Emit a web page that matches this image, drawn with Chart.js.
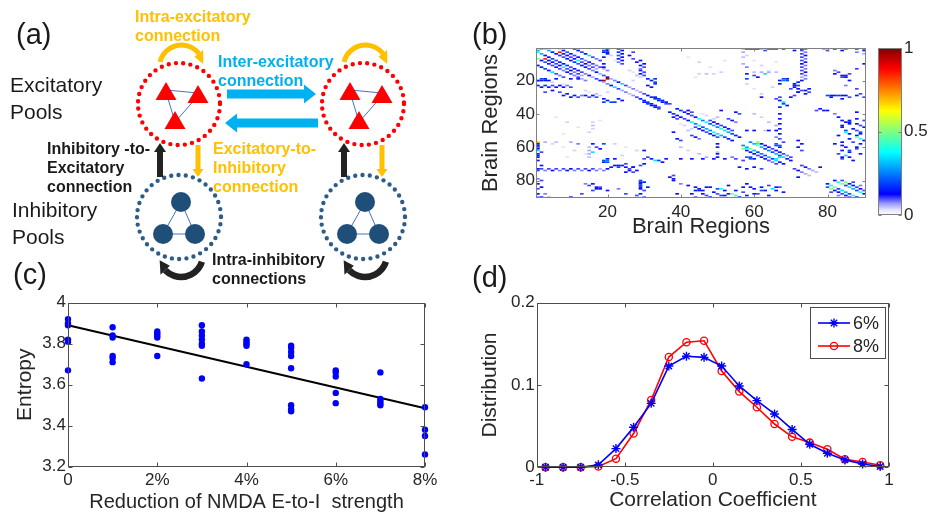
<!DOCTYPE html>
<html>
<head>
<meta charset="utf-8">
<script src="https://cdn.jsdelivr.net/npm/chart.js@4.4.1/dist/chart.umd.min.js"></script>
<style>
  html, body { margin: 0; padding: 0; background: #fff; }
  #fig { position: relative; width: 930px; height: 517px; overflow: hidden; }
  canvas { position: absolute; }
</style>
</head>
<body>
<div id="fig">
  <canvas id="cA" width="470" height="292" style="left:0px;top:0px"></canvas>
  <canvas id="cB" width="400" height="250" style="left:470px;top:0px"></canvas>
  <canvas id="cBar" width="60" height="250" style="left:870px;top:0px"></canvas>
  <canvas id="cC" width="470" height="262" style="left:0px;top:255px"></canvas>
  <canvas id="cD" width="460" height="262" style="left:470px;top:255px"></canvas>
</div>
<script>
// ---------- data ----------
// (b) structural connectivity, upper triangle entries [row, col, weight]; mirrored when drawn
const frontalCells = [
  [1,2,.3],[1,3,.38],[2,4,.3],[1,7,.5],[3,7,.85],[2,8,.12],[3,5,.15],[4,6,.12],[5,7,.2],[6,8,.1],
  [7,9,.15],[8,10,.12],[9,11,.18],[10,12,.1],[11,13,.15],[12,14,.12],[13,15,.1],[14,16,.08],[15,17,.12],
  [16,18,.06],[17,19,.1],[18,20,.15],[19,21,.06],[20,22,.08],[21,23,.12],[22,24,.35],[23,25,.1],
  [24,26,.06],[25,27,.08],[26,28,.05],[27,29,.07],[28,30,.1],
  [4,8,.15],[5,9,.12],[6,10,.1],[7,11,.15],[8,12,.38],[9,13,.1],[10,14,.12],[11,15,.08],[12,16,.1],[13,17,.06],
  [3,9,.1],[4,10,.15],[5,11,.1],[6,12,.12],[7,13,.1],[8,14,.08],[9,15,.12],[10,16,.1],[11,17,.08],[12,18,.1],[13,19,.06],[14,20,.08],
  [1,11,.12],[2,12,.15],[3,13,.2],[4,14,.12],[5,15,.35],[6,16,.1],[7,17,.08],[8,18,.1],
  [2,19,.2],[3,19,.15],[6,19,.15],[10,19,.12],[12,19,.12],[19,20,.95],[1,20,.15],[2,20,.15],[3,20,.15],[4,20,.12],
  [3,23,.18],[4,24,.15],[7,23,.15],[8,24,.12],[1,23,.15],[2,24,.12],[5,23,.1],[6,24,.12],[9,23,.08],[10,24,.1],
  [3,27,.1],[5,26,.12],[7,27,.1],[9,28,.12],[8,29,.12],[10,30,.12],[11,29,.15],[12,30,.1],[13,29,.08],
  [14,29,.12],[15,30,.1],[16,29,.15],[17,30,.1],
  [19,31,.15],[20,32,.15],[19,33,.18],[21,33,.2],[23,31,.15],[24,32,.12],[22,33,.18],
  [29,31,.12],[30,32,.15],[31,33,.18],[32,34,.15],[33,35,.12],[34,36,.1],[30,33,.15],[31,34,.18],[32,35,.15],[33,36,.12],[34,37,.1],
  [5,21,.04],[8,22,.03],[14,26,.04],[15,27,.03],[17,28,.05],[18,29,.04],[16,30,.03],[20,27,.04]
];
const limbicCells = [
  [37,39,.15],[38,40,.18],[39,41,.15],[40,42,.12],[41,43,.1],[38,42,.12],[39,43,.1],[42,44,.12],[43,45,.38],
  [44,46,.25],[45,47,.38],[46,48,.2],[47,49,.3],[48,50,.25],[49,51,.4],[50,52,.35],[51,53,.3],[52,54,.2],[53,55,.15],[54,56,.12],
  [44,48,.1],[45,49,.12],[46,50,.12],[47,51,.1],[48,52,.15],[49,53,.12],[50,54,.1],[43,53,.1],[44,54,.12],[45,55,.08],
  [38,51,.12],[39,55,.15],[40,56,.1],[41,47,.04],[42,50,.05],[43,49,.04],[40,46,.03]
];
const occipitalCells = [
  [57,59,.25],[58,60,.3],[59,61,.5],[60,62,.3],[61,63,.2],[62,64,.25],[63,65,.2],[64,66,.3],[65,67,.2],[66,68,.35],
  [57,61,.5],[58,61,.38],[58,62,.15],[59,63,.12],[60,64,.12],[61,65,.1],[62,66,.12],[63,67,.15],[64,68,.1],[66,67,.35],
  [58,66,.1],[60,67,.15],[59,67,.22],[57,68,.1],[65,69,.08],[66,70,.1],[67,69,.15],[68,70,.12],[59,66,.2]
];
const subcorticalCells = [
  [80,82,.15],[81,83,.4],[82,84,.5],[83,85,.2],[84,86,.35],[85,87,.3],[86,88,.2],[87,89,.4],[88,90,.15],
  [80,84,.1],[81,85,.5],[82,86,.15],[83,87,.12],[84,88,.1],[85,89,.12],[86,90,.1],[81,87,.1],[83,89,.08],
  [71,73,.1],[72,74,.12],[73,75,.08],[74,76,.06],[75,77,.05],[72,78,.12]
];
const crossCells = [
  [40,82,.08],[42,83,.12],[44,84,.15],[45,85,.12],[46,86,.15],[48,84,.12],[50,85,.2],[52,86,.15],[53,88,.15],[55,89,.4],
  [56,90,.15],[58,82,.12],[59,84,.15],[60,85,.12],[62,84,.15],[63,86,.12],[64,83,.1],[65,85,.35],[66,86,.12],[67,84,.1],
  [57,87,.1],[58,89,.15],[61,88,.1],[44,90,.1],[46,88,.12],[48,90,.15],[50,88,.1],[52,89,.12],
  [45,86,.15],[47,84,.12],[49,87,.15],[51,89,.2],[53,83,.12],[55,86,.15],[57,84,.12],[60,88,.15],[62,86,.2],[64,89,.15],
  [66,84,.12],[68,87,.15],[43,88,.12],[44,86,.15],[47,89,.1],[51,85,.38],[54,88,.5],
  [1,57,.7],[1,58,.15],[1,60,.12],[1,62,.35],[1,64,.15],[1,66,.12],[1,68,.15],[1,73,.12],[1,79,.08],[1,85,.1],[1,90,.08],
  [2,73,.1],[3,74,.08],[4,73,.1],[5,74,.12],[6,73,.1],[7,74,.08],[8,73,.1],[9,74,.15],[10,73,.12],[11,74,.08],[12,73,.1],
  [13,74,.08],[14,73,.1],[15,74,.12],[16,73,.1],[17,74,.08],[18,73,.06],[19,74,.08],[20,73,.12],[21,72,.15],[22,71,.12],
  [23,72,.2],[24,71,.15],[25,72,.12],[26,73,.1],[27,72,.12],
  [3,57,.06],[6,57,.05],[10,57,.06],[12,58,.08],[16,58,.15],[17,60,.1],[18,61,.12],[16,63,.35],[19,68,.2],[20,67,.15],
  [22,67,.12],[19,69,.15],[20,68,.25],[20,69,.2],[19,58,.2],[29,80,.2],[29,81,.15],[29,83,.18],[29,85,.12],[17,84,.15],[18,85,.12],
  [16,86,.1],[20,86,.12],[23,85,.08],[25,88,.1],[28,89,.1],[14,82,.08],[13,88,.1],[10,90,.12],[3,88,.08],[4,90,.06],
  [15,62,.06],[15,60,.05],[15,64,.06],[15,66,.05],
  [1,59,.15],[1,61,.12],[2,63,.1],[1,65,.12],[2,71,.15],[1,74,.2],[2,80,.1],[1,82,.15],[2,84,.12],[1,88,.15],[2,90,.12],
  [25,75,.15],[26,74,.12],[27,75,.1],[28,74,.12],[23,71,.12],[25,70,.1],[27,72,.15],[29,71,.1],[30,70,.12],
  [29,82,.15],[29,84,.12],[30,86,.1],[29,88,.15],[30,90,.1],[15,83,.1],[16,82,.12],[17,85,.15],[18,84,.1],
  [30,62,.12],[30,81,.15],[31,84,.15],[39,88,.12],[38,79,.15],[38,80,.12],
  [33,68,.35],[32,67,.15],[34,68,.2],[31,66,.1],[35,69,.12],[30,67,.1],[36,67,.15],
  [40,67,.12],[43,67,.15],[46,67,.12],[49,67,.15],[52,67,.12],[55,67,.1],
  [50,58,.12],[50,60,.15],[50,64,.12],[50,66,.12],
  [56,72,.12],[58,73,.15],[60,72,.12],[62,73,.1],
  [37,78,.12],[38,77,.1],[40,60,.05],[42,62,.04],[45,64,.05],[47,66,.06],[50,63,.05],[54,66,.08],
  [5,58,.04],[8,60,.03],[11,62,.04],[14,64,.03],[22,58,.04],[25,60,.03],[28,62,.04],[9,66,.03],[24,65,.04],
  [16,45,.04],[16,47,.05],[16,49,.04],[6,42,.03],[9,45,.04],[12,48,.03],[15,51,.04],[18,44,.03],[8,52,.03]
];
const regionTicks = [20, 40, 60, 80];
const colorbarTicks = [0, 0.5, 1];

// (c) entropy per NMDA E-to-I reduction level (%)
const reductionLevels = [0, 1, 2, 3, 4, 5, 6, 7, 8];
const entropyValues = [
  [3.92, 3.90, 3.89, 3.82, 3.81, 3.67],
  [3.88, 3.84, 3.83, 3.74, 3.73, 3.71],
  [3.86, 3.85, 3.84, 3.83, 3.74],
  [3.89, 3.86, 3.84, 3.82, 3.80, 3.79, 3.63],
  [3.82, 3.81, 3.80, 3.79, 3.70],
  [3.79, 3.78, 3.76, 3.74, 3.68, 3.50, 3.48, 3.47],
  [3.67, 3.66, 3.64, 3.56, 3.51],
  [3.66, 3.53, 3.52, 3.51, 3.50],
  [3.49, 3.38, 3.35, 3.26]
];
const fitEnds = [3.89, 3.485];   // linear fit at 0% and 8%
const levelTicks = [0, 2, 4, 6, 8];
const entropyTicks = [3.2, 3.4, 3.6, 3.8, 4];

// (d) distribution of correlation coefficients
const corrBins = [-0.95,-0.85,-0.75,-0.65,-0.55,-0.45,-0.35,-0.25,-0.15,-0.05,0.05,0.15,0.25,0.35,0.45,0.55,0.65,0.75,0.85,0.95];
const dist6 = [0,0,0,0.003,0.0227,0.0486,0.0777,0.123,0.135,0.1336,0.123,0.0988,0.081,0.0648,0.046,0.028,0.017,0.009,0.004,0.001];
const dist8 = [0,0,0,0.001,0.0105,0.041,0.0818,0.134,0.152,0.1538,0.117,0.092,0.073,0.0526,0.037,0.03,0.0219,0.0097,0.0065,0.0024];
const corrTicks = [-1, -0.5, 0, 0.5, 1];
const distTicks = [0, 0.1, 0.2];

// ---------- common style ----------
const FONT = "'Liberation Sans', Arial, Helvetica, sans-serif";
const INK = '#262626';
Chart.defaults.font.family = FONT;
Chart.defaults.color = INK;
Chart.defaults.animation = false;
Chart.defaults.responsive = false;
Chart.defaults.devicePixelRatio = 1;
Chart.defaults.plugins.legend.display = false;
Chart.defaults.plugins.tooltip.enabled = false;

function fmt(v) { return String(Number(v.toFixed(2))); }

function axis(opts) {
  const o = {
    type: 'linear', min: opts.min, max: opts.max, reverse: !!opts.reverse,
    position: opts.position,
    grid: { display: false, drawTicks: false },
    border: { display: false },
    afterFit(s) { if (s.isHorizontal()) s.height = opts.size; else s.width = opts.size; },
    afterBuildTicks(s) { s.ticks = opts.ticks.map(v => ({ value: v })); },
    ticks: { padding: opts.pad, font: { size: 17 }, color: INK, maxRotation: 0, autoSkip: false,
             callback: opts.label || (v => fmt(v)) },
    title: opts.title ? { display: true, text: opts.title, font: { size: opts.titleSize || 21 }, color: INK,
             padding: opts.titlePad } : { display: false }
  };
  if (opts.display === false) o.display = false;
  return o;
}

// MATLAB-like box with inward tick marks
function boxPlugin(color, len) {
  return {
    id: 'box',
    afterDraw(chart) {
      const { ctx, chartArea: a } = chart;
      const x = chart.scales.x, y = chart.scales.y;
      ctx.save();
      ctx.strokeStyle = color; ctx.lineWidth = 1;
      const L = Math.round(a.left) + 0.5, R = Math.round(a.right) - 0.5;
      const T = Math.round(a.top) + 0.5, B = Math.round(a.bottom) - 0.5;
      ctx.beginPath();
      if (x && x.options.display !== false) x.ticks.forEach(t => {
        const p = Math.round(x.getPixelForValue(t.value)) + 0.5;
        ctx.moveTo(p, B); ctx.lineTo(p, B - len); ctx.moveTo(p, T); ctx.lineTo(p, T + len);
      });
      if (y) y.ticks.forEach(t => {
        const p = Math.round(y.getPixelForValue(t.value)) + 0.5;
        ctx.moveTo(L, p); ctx.lineTo(L + len, p); ctx.moveTo(R, p); ctx.lineTo(R - len, p);
      });
      ctx.stroke();
      ctx.strokeRect(L, T, R - L, B - T);
      ctx.restore();
    }
  };
}

function panelTag(text, x, y) {
  return {
    id: 'tag' ,
    afterDraw(chart) {
      const ctx = chart.ctx;
      ctx.save(); ctx.font = '29px ' + FONT; ctx.fillStyle = '#1a1a1a';
      ctx.textBaseline = 'alphabetic'; ctx.textAlign = 'left';
      ctx.fillText(text, x, y); ctx.restore();
    }
  };
}

// ---------- colormap (white -> blue, then jet) ----------
const cmapStops = [
  [0, [255,255,255]], [0.03, [228,228,255]], [0.07, [150,150,255]], [0.11, [40,40,255]],
  [0.125, [0,0,255]], [0.375, [0,255,255]], [0.625, [255,255,0]], [0.875, [255,0,0]], [1, [128,0,0]]
];
function cmap(v) {
  v = Math.max(0, Math.min(1, v));
  for (let i = 1; i < cmapStops.length; i++) {
    const [v1, c1] = cmapStops[i];
    if (v <= v1) {
      const [v0, c0] = cmapStops[i - 1];
      const f = (v - v0) / (v1 - v0);
      const c = c0.map((k, j) => Math.round(k + (c1[j] - k) * f));
      return 'rgb(' + c.join(',') + ')';
    }
  }
  return 'rgb(128,0,0)';
}

// ---------- (a) model diagram ----------
const ORANGE = '#FFC000', CYAN = '#00B0F0', RED = '#FF0000', NAVY = '#1F4E79', DOTBLUE = '#2E5C8A', LINKBLUE = '#4472C4';

function dottedCircle(ctx, cx, cy, r, color) {
  ctx.save(); ctx.beginPath(); ctx.arc(cx, cy, r, 0, Math.PI * 2);
  ctx.setLineDash([0, 7.3]); ctx.lineCap = 'round'; ctx.lineWidth = 4.4; ctx.strokeStyle = color; ctx.stroke();
  ctx.restore();
}
function blockArrow(ctx, x0, y0, x1, y1, bw, hw, hl, color) {
  const dx = x1 - x0, dy = y1 - y0, L = Math.hypot(dx, dy), ux = dx / L, uy = dy / L, nx = -uy, ny = ux;
  const bx = x1 - ux * hl, by = y1 - uy * hl;
  ctx.beginPath();
  ctx.moveTo(x0 + nx * bw / 2, y0 + ny * bw / 2);
  ctx.lineTo(bx + nx * bw / 2, by + ny * bw / 2);
  ctx.lineTo(bx + nx * hw / 2, by + ny * hw / 2);
  ctx.lineTo(x1, y1);
  ctx.lineTo(bx - nx * hw / 2, by - ny * hw / 2);
  ctx.lineTo(bx - nx * bw / 2, by - ny * bw / 2);
  ctx.lineTo(x0 - nx * bw / 2, y0 - ny * bw / 2);
  ctx.closePath(); ctx.fillStyle = color; ctx.fill();
}
function arcArrow(ctx, cx, cy, r, a0deg, a1deg, headDeg, lw, hw, color) {
  const rad = Math.PI / 180, a0 = a0deg * rad, a1 = a1deg * rad, ab = (a1deg - headDeg) * rad;
  ctx.save();
  ctx.beginPath(); ctx.arc(cx, cy, r, a0, ab); ctx.lineWidth = lw; ctx.strokeStyle = color; ctx.lineCap = 'butt'; ctx.stroke();
  const bx = cx + r * Math.cos(ab), by = cy + r * Math.sin(ab);
  const tx = cx + r * Math.cos(a1), ty = cy + r * Math.sin(a1);
  const nx = Math.cos(ab), ny = Math.sin(ab);
  ctx.beginPath(); ctx.moveTo(bx + nx * hw / 2, by + ny * hw / 2); ctx.lineTo(tx, ty); ctx.lineTo(bx - nx * hw / 2, by - ny * hw / 2);
  ctx.closePath(); ctx.fillStyle = color; ctx.fill();
  ctx.restore();
}
function triangle(ctx, cx, top, w, h) {
  ctx.beginPath(); ctx.moveTo(cx, top); ctx.lineTo(cx + w / 2, top + h); ctx.lineTo(cx - w / 2, top + h); ctx.closePath(); ctx.fill();
}
function drawColumn(ctx, dx) {
  // excitatory pool
  ctx.save();
  ctx.strokeStyle = LINKBLUE; ctx.lineWidth = 1;
  ctx.beginPath();
  ctx.moveTo(166 + dx, 90); ctx.lineTo(198 + dx, 93);
  ctx.moveTo(166 + dx, 92); ctx.lineTo(175 + dx, 122);
  ctx.moveTo(198 + dx, 96); ctx.lineTo(175 + dx, 122);
  ctx.stroke();
  ctx.fillStyle = RED;
  triangle(ctx, 166 + dx, 82, 21, 18);
  triangle(ctx, 198 + dx, 85, 21, 18);
  triangle(ctx, 175 + dx, 111, 21, 18);
  dottedCircle(ctx, 179 + dx, 104, 41, RED);
  arcArrow(ctx, 181.5 + dx, 67, 22, 193, 352, 30, 5, 11, ORANGE);
  // inhibitory pool
  ctx.strokeStyle = LINKBLUE; ctx.lineWidth = 1;
  ctx.beginPath();
  ctx.moveTo(181 + dx, 202); ctx.lineTo(163 + dx, 234);
  ctx.moveTo(181 + dx, 202); ctx.lineTo(195 + dx, 234);
  ctx.moveTo(163 + dx, 234); ctx.lineTo(195 + dx, 234);
  ctx.stroke();
  ctx.fillStyle = NAVY;
  [[181, 202], [163, 234], [195, 234]].forEach(([x, y]) => { ctx.beginPath(); ctx.arc(x + dx, y, 10, 0, Math.PI * 2); ctx.fill(); });
  dottedCircle(ctx, 179 + dx, 217, 42, DOTBLUE);
  arcArrow(ctx, 181 + dx, 255, 22, 18, 166, 30, 6.5, 13, '#222222');
  // vertical links
  blockArrow(ctx, 160 + dx, 177, 160 + dx, 143, 6, 12, 9, '#222222');
  blockArrow(ctx, 198 + dx, 145, 198 + dx, 177, 5, 11, 8, ORANGE);
  ctx.restore();
}
const diagramPlugin = {
  id: 'diagram',
  afterDraw(chart) {
    const ctx = chart.ctx;
    drawColumn(ctx, 0);
    drawColumn(ctx, 184);
    blockArrow(ctx, 227, 94, 316, 94, 9, 19, 12, CYAN);
    blockArrow(ctx, 318, 123, 225, 123, 9, 19, 12, CYAN);
    ctx.save();
    ctx.textAlign = 'left'; ctx.textBaseline = 'alphabetic';
    ctx.fillStyle = '#1a1a1a'; ctx.font = '29px ' + FONT;
    ctx.fillText('(a)', 16, 44);
    ctx.font = '21px ' + FONT; ctx.fillStyle = '#1a1a1a';
    ctx.fillText('Excitatory', 10, 92); ctx.fillText('Pools', 10, 119);
    ctx.fillText('Inhibitory', 12, 217); ctx.fillText('Pools', 12, 244);
    ctx.font = 'bold 16px ' + FONT;
    ctx.fillStyle = ORANGE;
    ctx.fillText('Intra-excitatory', 135, 22); ctx.fillText('connection', 135, 41);
    ctx.fillText('Excitatory-to-', 213, 154); ctx.fillText('Inhibitory', 213, 173); ctx.fillText('connection', 213, 192);
    ctx.fillStyle = CYAN;
    ctx.fillText('Inter-excitatory', 218, 67); ctx.fillText('connection', 218, 86);
    ctx.fillStyle = '#1a1a1a';
    ctx.fillText('Inhibitory -to-', 47, 154); ctx.fillText('Excitatory', 47, 173); ctx.fillText('connection', 47, 192);
    ctx.fillText('Intra-inhibitory', 212, 265); ctx.fillText('connections', 212, 284);
    ctx.restore();
  }
};
new Chart(document.getElementById('cA'), {
  type: 'scatter',
  data: { datasets: [] },
  options: { layout: { padding: 0 }, scales: { x: { display: false }, y: { display: false } } },
  plugins: [diagramPlugin]
});

// ---------- (b) heatmap ----------
const allCells = [].concat(frontalCells, limbicCells, occipitalCells, subcorticalCells, crossCells);
const heatPoints = [];
allCells.forEach(([r, c, w]) => {
  heatPoints.push({ x: c, y: r, w: w });
  if (r !== c) heatPoints.push({ x: r, y: c, w: w });
});
heatPoints.sort((a, b) => a.w - b.w);
const heatPlugin = {
  id: 'heat',
  beforeDatasetsDraw(chart) {
    const { ctx, chartArea: a } = chart;
    const xs = chart.scales.x, ys = chart.scales.y;
    ctx.save();
    ctx.beginPath(); ctx.rect(a.left, a.top, a.right - a.left, a.bottom - a.top); ctx.clip();
    ctx.filter = 'blur(0.45px)';   // the matrix image is shown smoothed
    chart.data.datasets[0].data.forEach(p => {
      const x0 = xs.getPixelForValue(p.x - 0.5), x1 = xs.getPixelForValue(p.x + 0.5);
      const y0 = ys.getPixelForValue(p.y - 0.5), y1 = ys.getPixelForValue(p.y + 0.5);
      ctx.fillStyle = cmap(p.w);
      ctx.fillRect(x0, Math.min(y0, y1), x1 - x0, Math.abs(y1 - y0));
    });
    ctx.restore();
  }
};
new Chart(document.getElementById('cB'), {
  type: 'scatter',
  data: { datasets: [{ data: heatPoints, pointRadius: 0 }] },
  options: {
    layout: { padding: { left: 0, right: 4, top: 48, bottom: 0 } },
    scales: {
      x: axis({ min: 0.5, max: 90.5, ticks: regionTicks, size: 52, pad: 4, label: v => String(v),
                title: 'Brain Regions', titleSize: 22, titlePad: { top: 0, bottom: 9.5 } }),
      y: axis({ min: 0.5, max: 90.5, reverse: true, ticks: regionTicks, size: 66, pad: 1, label: v => String(v),
                title: 'Brain Regions', titleSize: 22, titlePad: { top: 7.8, bottom: 0 } })
    }
  },
  plugins: [heatPlugin, boxPlugin('#808080', 3), panelTag('(b)', 2, 44)]
});

// colorbar
const barPlugin = {
  id: 'bar',
  beforeDatasetsDraw(chart) {
    const { ctx, chartArea: a } = chart;
    const ys = chart.scales.y;
    ctx.save();
    for (let py = Math.floor(a.top); py < a.bottom; py++) {
      const v = ys.getValueForPixel(py + 0.5);
      ctx.fillStyle = cmap(v);
      ctx.fillRect(a.left, py, a.right - a.left, 1);
    }
    ctx.restore();
  }
};
new Chart(document.getElementById('cBar'), {
  type: 'scatter',
  data: { datasets: [{ data: [] }] },
  options: {
    layout: { padding: { left: 8, right: 0, top: 48, bottom: 35 } },
    scales: {
      x: { display: false, min: 0, max: 1 },
      y: axis({ min: 0, max: 1, position: 'right', ticks: colorbarTicks, size: 28, pad: 2 })
    }
  },
  plugins: [barPlugin, boxPlugin('#808080', 3)]
});

// ---------- (c) entropy scatter ----------
const entropyPoints = [];
reductionLevels.forEach((lv, i) => entropyValues[i].forEach(v => entropyPoints.push({ x: lv, y: v })));
new Chart(document.getElementById('cC'), {
  type: 'scatter',
  data: {
    datasets: [
      { data: entropyPoints, pointRadius: 3.2, pointBackgroundColor: '#0000FF', pointBorderWidth: 0, clip: false },
      { type: 'line', data: [{ x: reductionLevels[0], y: fitEnds[0] }, { x: reductionLevels[reductionLevels.length - 1], y: fitEnds[1] }],
        borderColor: '#000000', borderWidth: 2, pointRadius: 0, clip: false }
    ]
  },
  options: {
    layout: { padding: { left: 0, right: 45, top: 47.7, bottom: 0 } },
    scales: {
      x: axis({ min: 0, max: 8, ticks: levelTicks, size: 50.3, pad: 3, label: v => (v === 0 ? '0' : v + '%'),
                title: 'Reduction of NMDA E-to-I  strength', titleSize: 20, titlePad: { top: 0, bottom: 2.5 } }),
      y: axis({ min: 3.2, max: 4, ticks: entropyTicks, size: 68, pad: 2,
                title: 'Entropy', titleSize: 21, titlePad: { top: 12.4, bottom: 0 } })
    }
  },
  plugins: [boxPlugin('#4d4d4d', 4), panelTag('(c)', 13, 29)]
});

// ---------- (d) correlation distribution ----------
const legendPlugin = {
  id: 'boxLegend',
  afterDraw(chart) {
    const ctx = chart.ctx;
    const bx = 340, by = 52, bw = 75, bh = 51;
    ctx.save();
    ctx.fillStyle = '#ffffff'; ctx.fillRect(bx, by, bw, bh);
    ctx.strokeStyle = '#4d4d4d'; ctx.lineWidth = 1; ctx.strokeRect(bx + 0.5, by + 0.5, bw, bh);
    chart.data.datasets.forEach((ds, i) => {
      const y = by + 16 + i * 23;
      ctx.strokeStyle = ds.borderColor; ctx.lineWidth = ds.borderWidth;
      ctx.beginPath(); ctx.moveTo(bx + 8, y); ctx.lineTo(bx + 40, y); ctx.stroke();
      const cx = bx + 24;
      ctx.lineWidth = ds.pointBorderWidth;
      ctx.beginPath();
      if (ds.pointStyle === 'star') {
        const r = ds.pointRadius, d = r * Math.SQRT1_2;
        ctx.moveTo(cx - r, y); ctx.lineTo(cx + r, y); ctx.moveTo(cx, y - r); ctx.lineTo(cx, y + r);
        ctx.moveTo(cx - d, y - d); ctx.lineTo(cx + d, y + d); ctx.moveTo(cx - d, y + d); ctx.lineTo(cx + d, y - d);
      } else {
        ctx.arc(cx, y, ds.pointRadius, 0, Math.PI * 2);
      }
      ctx.stroke();
      ctx.fillStyle = INK; ctx.font = '18px ' + FONT; ctx.textBaseline = 'middle'; ctx.textAlign = 'left';
      ctx.fillText(ds.label, bx + 43, y + 1);
    });
    ctx.restore();
  }
};
new Chart(document.getElementById('cD'), {
  type: 'line',
  data: {
    datasets: [
      { label: '6%', data: corrBins.map((x, i) => ({ x, y: dist6[i] })), borderColor: '#0000FF', borderWidth: 1.6,
        pointStyle: 'star', pointRadius: 4.5, pointBorderWidth: 1.4, pointBorderColor: '#0000FF', pointBackgroundColor: '#0000FF', clip: false },
      { label: '8%', data: corrBins.map((x, i) => ({ x, y: dist8[i] })), borderColor: '#FF0000', borderWidth: 1.6,
        pointStyle: 'circle', pointRadius: 3.6, pointBorderWidth: 1.3, pointBorderColor: '#FF0000', pointBackgroundColor: 'rgba(255,255,255,0)', clip: false }
    ]
  },
  options: {
    layout: { padding: { left: 0, right: 41, top: 47.7, bottom: 0 } },
    scales: {
      x: axis({ min: -1, max: 1, ticks: corrTicks, size: 49.7, pad: 3,
                title: 'Correlation Coefficient', titleSize: 21, titlePad: { top: 0, bottom: 3.7 } }),
      y: axis({ min: 0, max: 0.2, ticks: distTicks, size: 66.7, pad: 2,
                title: 'Distribution', titleSize: 21, titlePad: { top: 7.4, bottom: 0 } })
    }
  },
  plugins: [boxPlugin('#4d4d4d', 4), legendPlugin, panelTag('(d)', 2, 32)]
});
</script>
</body>
</html>
